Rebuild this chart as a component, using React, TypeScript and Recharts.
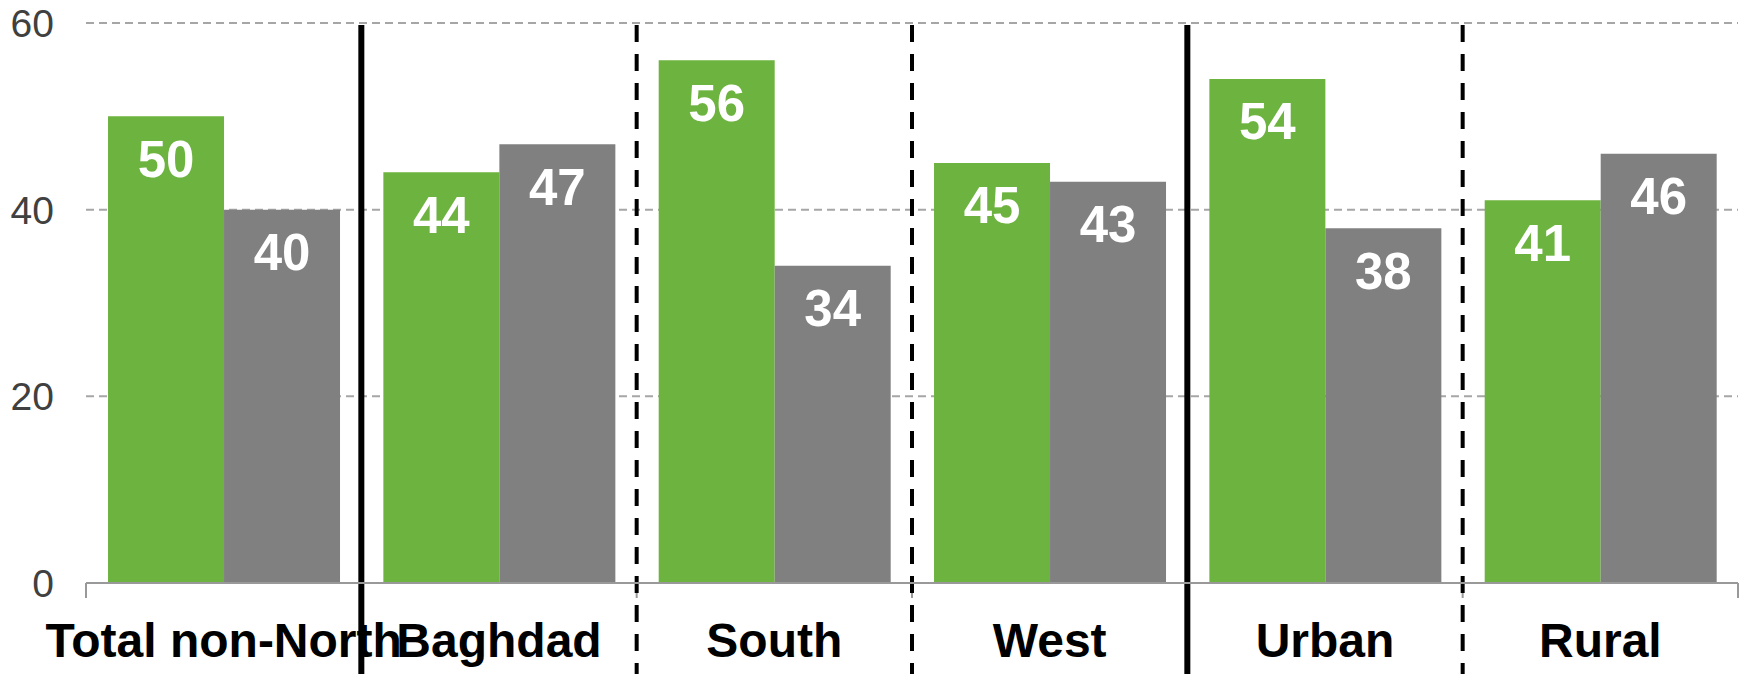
import React from 'react';
import {
  BarChart,
  Bar,
  XAxis,
  YAxis,
  CartesianGrid,
  LabelList,
  ReferenceLine
} from 'recharts';

const regions = ['Total non-North', 'Baghdad', 'South', 'West', 'Urban', 'Rural'];
const greenValues = [50, 44, 56, 45, 54, 41];
const greyValues = [40, 47, 34, 43, 38, 46];
const yTicks = [0, 20, 40, 60];
// group separators sit on the boundaries between categories 1..5
const separatorKinds = ['solid', 'dashed', 'dashed', 'solid', 'dashed'];
const boundaries = [0, 1, 2, 3, 4, 5, 6];

const FONT = '"Liberation Sans", Arial, sans-serif';
const CHART_W = 1741;
const CHART_H = 674;

// pos = centre of each category on a 0..n scale, used by the boundary axis
const data = regions.map((name, i) => ({
  name,
  pos: i + 0.5,
  green: greenValues[i],
  grey: greyValues[i]
}));

const separatorShape = (dashed: boolean) => (props: any) => {
  const top = Math.min(props.y1, props.y2);
  return (
    <line
      x1={props.x1}
      x2={props.x2}
      y1={top + 2}
      y2={CHART_H}
      stroke="#000"
      strokeWidth={dashed ? 4 : 6}
      strokeDasharray={dashed ? '17 12' : undefined}
    />
  );
};

const boundaryTick = (props: any) => {
  const bottom = Math.max(props.y1, props.y2);
  return (
    <line
      x1={props.x1}
      x2={props.x2}
      y1={bottom}
      y2={bottom + 15}
      stroke="#999"
      strokeWidth={2}
    />
  );
};

const App: React.FC = () => {
  return (
    <div style={{ position: 'absolute', left: 0, top: 0, width: CHART_W, height: CHART_H, background: '#fff' }}>
      <BarChart
        width={CHART_W}
        height={CHART_H}
        data={data}
        margin={{ top: 23, right: 3, left: 0, bottom: 0 }}
        barCategoryGap="8%"
        barGap={0}
        style={{ fontFamily: FONT }}
      >
        <CartesianGrid
          vertical={false}
          stroke="#A6A6A6"
          strokeWidth={2}
          strokeDasharray="8 5"
        />
        <XAxis
          dataKey="name"
          height={91}
          interval={0}
          tickLine={false}
          tickSize={0}
          tickMargin={40}
          axisLine={{ stroke: '#999', strokeWidth: 2 }}
          tick={{ fill: '#000', fontSize: 48, fontWeight: 'bold', fontFamily: FONT }}
        />
        <XAxis
          xAxisId="sep"
          dataKey="pos"
          type="number"
          domain={[0, regions.length]}
          allowDataOverflow
          hide
        />
        <YAxis
          width={86}
          domain={[0, 60]}
          ticks={yTicks}
          axisLine={false}
          tickLine={false}
          tickSize={0}
          tickMargin={32}
          tick={{ fill: '#404040', fontSize: 39, fontFamily: FONT }}
        />
        <Bar dataKey="green" fill="#6DB33F" isAnimationActive={false}>
          <LabelList
            dataKey="green"
            position="insideTop"
            offset={24}
            fill="#fff"
            fontSize={51}
            fontWeight="bold"
            fontFamily={FONT}
          />
        </Bar>
        <Bar dataKey="grey" fill="#808080" isAnimationActive={false}>
          <LabelList
            dataKey="grey"
            position="insideTop"
            offset={24}
            fill="#fff"
            fontSize={51}
            fontWeight="bold"
            fontFamily={FONT}
          />
        </Bar>
        {boundaries.map((b) => (
          <ReferenceLine key={`t${b}`} xAxisId="sep" x={b} shape={boundaryTick} />
        ))}
        {separatorKinds.map((kind, i) => (
          <ReferenceLine
            key={`s${i}`}
            xAxisId="sep"
            x={i + 1}
            shape={separatorShape(kind === 'dashed')}
          />
        ))}
      </BarChart>
    </div>
  );
};

export default App;
